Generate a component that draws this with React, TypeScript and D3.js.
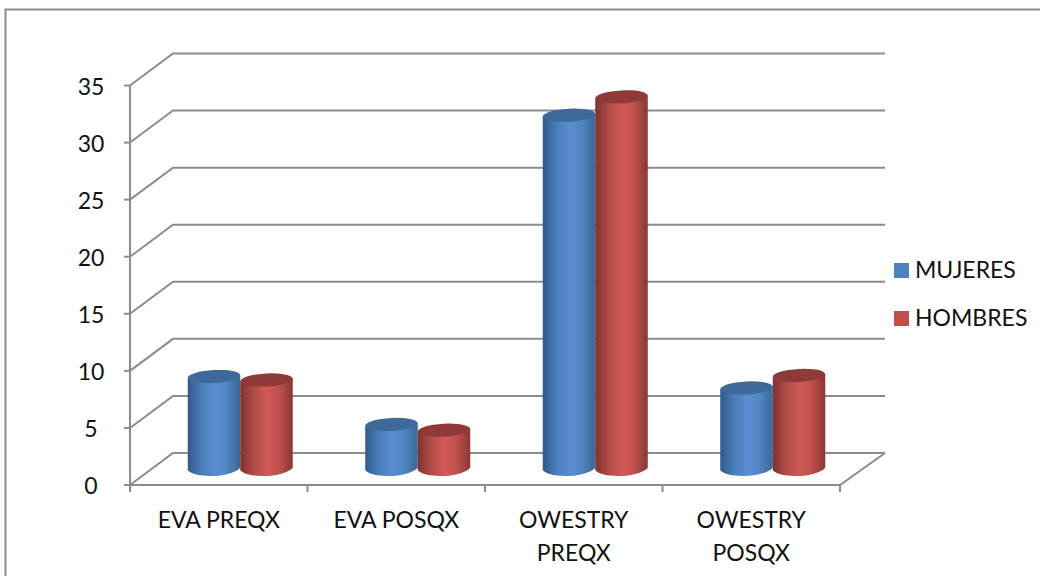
import React from "react";
import * as d3 from "d3";

const categories = [["EVA PREQX"], ["EVA POSQX"], ["OWESTRY", "PREQX"], ["OWESTRY", "POSQX"]];
const mujeres = [8.1, 3.9, 31.0, 7.1];
const hombres = [7.8, 3.4, 32.6, 8.2];
const yTicks = [0, 5, 10, 15, 20, 25, 30, 35];
const seriesNames = ["MUJERES", "HOMBRES"];

const WIDTH = 1040;
const HEIGHT = 576;
const FONT = "Lato, 'Open Sans', sans-serif";
const GRID = "#8c8c8c";
const TEXT = "#111";
const DEPTH_X = 43;
const DEPTH_Y = -32;
const BASE_Y = 485;

const y = d3.scaleLinear().domain([0, 35]).range([BASE_Y, 85.5]);
const x = d3.scaleBand<number>().domain([0, 1, 2, 3]).range([130, 840]);
const barWidth = 52.5;

const palette = [
  { id: "gradBlue", top: "#3d6a9b", stops: ["#2f5a8a", "#4a7cb8", "#5a8dcf", "#5288c6", "#3c6797"], swatch: "#4f81bd" },
  { id: "gradRed", top: "#8f3a38", stops: ["#7d3230", "#b04c49", "#cf5955", "#c4524f", "#8a3735"], swatch: "#c0504d" },
];

function Cylinder({ cx, value, s }: { cx: number; value: number; s: number }) {
  const floorY = y(0) - 16;
  const topY = floorY - (y(0) - y(value));
  const rx = barWidth / 2;
  const ry = 6.5;
  const tilt = -3;
  const dy = Math.sin((tilt * Math.PI) / 180) * rx;
  const left = cx - rx;
  const right = cx + rx;
  const body = d3.path();
  body.moveTo(left, topY - dy);
  body.lineTo(left, floorY - dy);
  body.bezierCurveTo(left + 8, floorY - dy + 9, right - 8, floorY + dy + 9.5, right, floorY + dy);
  body.lineTo(right, topY + dy);
  body.closePath();
  return (
    <g>
      <path d={body.toString()} fill={`url(#${palette[s].id})`} />
      <ellipse cx={cx} cy={topY} rx={rx} ry={ry} fill={palette[s].top} transform={`rotate(${tilt} ${cx} ${topY})`} />
    </g>
  );
}

export default function App() {
  const xEdges = [0, 1, 2, 3].map((i) => x(i) as number).concat(840);
  return (
    <svg
      width={WIDTH}
      height={HEIGHT}
      viewBox={`0 0 ${WIDTH} ${HEIGHT}`}
      style={{ position: "absolute", left: 0, top: 0, background: "#fff" }}
    >
      <defs>
        {palette.map((p) => (
          <linearGradient key={p.id} id={p.id} x1="0" x2="1" y1="0" y2="0">
            {p.stops.map((c, i) => (
              <stop key={i} offset={`${[0, 25, 50, 72, 100][i]}%`} stopColor={c} />
            ))}
          </linearGradient>
        ))}
      </defs>

      <path d="M5.5 576V9.5H1040" fill="none" stroke={GRID} strokeWidth={2} />

      {/* Back wall and side wall gridlines */}
      {yTicks.map((t) => (
        <g key={t} stroke={GRID} strokeWidth={2} fill="none">
          <path d={`M130 ${y(t)}L${130 + DEPTH_X} ${y(t) + DEPTH_Y}H885`} />
          <line x1={124} x2={130} y1={y(t)} y2={y(t)} />
          <text
            x={91}
            y={y(t) + 1}
            dy="0.36em"
            textAnchor="middle"
            stroke="none"
            fill={TEXT}
            fontFamily={FONT}
            fontSize={23}
          >
            {t}
          </text>
        </g>
      ))}

      {/* Front axis frame and floor */}
      <g stroke={GRID} strokeWidth={2} fill="none">
        <line x1={130} x2={130} y1={y(35)} y2={y(0) + 7} />
        <path d={`M130 ${y(0)}H840L885 ${y(0) + DEPTH_Y}`} />
        {xEdges.slice(1).map((e) => (
          <line key={e} x1={e} x2={e} y1={y(0)} y2={y(0) + 7} />
        ))}
      </g>

      {/* Cylinders */}
      {categories.map((_, i) => {
        const mid = (x(i) as number) + x.bandwidth() / 2 + 21.5;
        return (
          <g key={i}>
            <Cylinder cx={mid - barWidth / 2} value={mujeres[i]} s={0} />
            <Cylinder cx={mid + barWidth / 2} value={hombres[i]} s={1} />
          </g>
        );
      })}

      {/* Category labels */}
      {categories.map((lines, i) => (
        <text
          key={i}
          textAnchor="middle"
          fontFamily={FONT}
          fontSize={23}
          fill={TEXT}
        >
          {lines.map((l, j) => (
            <tspan key={j} x={(x(i) as number) + x.bandwidth() / 2} y={528 + j * 33}>
              {l}
            </tspan>
          ))}
        </text>
      ))}

      {/* Legend */}
      {seriesNames.map((name, i) => (
        <g key={name}>
          <rect x={894} y={263 + i * 48} width={15} height={15} fill={palette[i].swatch} />
          <text x={915} y={278 + i * 48} fontFamily={FONT} fontSize={23} fill={TEXT}>
            {name}
          </text>
        </g>
      ))}
    </svg>
  );
}
